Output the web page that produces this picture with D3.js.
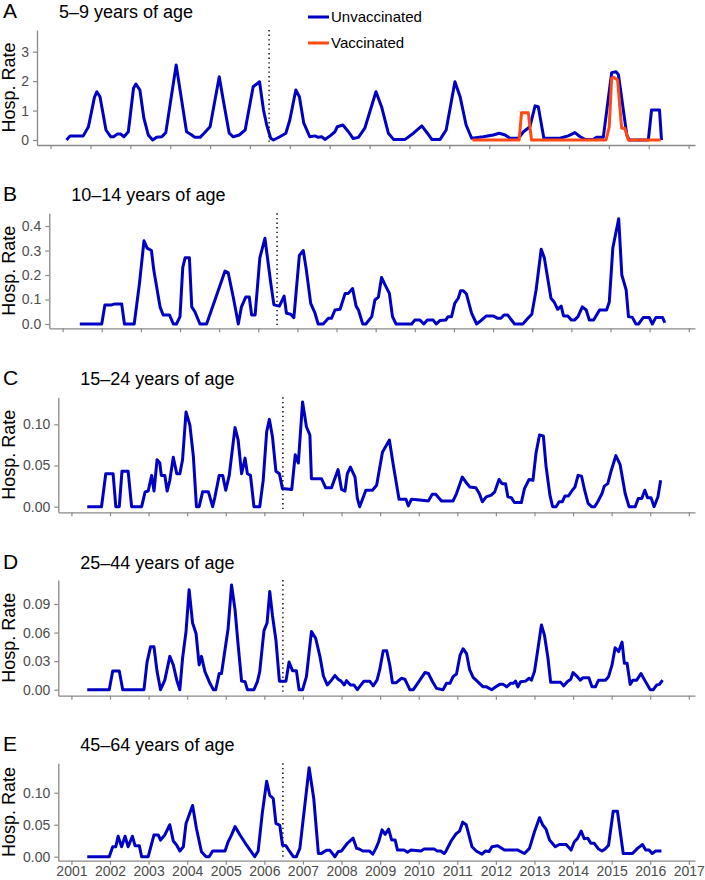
<!DOCTYPE html>
<html>
<head>
<meta charset="utf-8">
<script src="https://cdn.jsdelivr.net/npm/d3@7"></script>
<style>
  html, body { margin: 0; padding: 0; background: #fff; }
  svg { display: block; font-family: "Liberation Sans", Arial, Helvetica, sans-serif; }
</style>
</head>
<body>
<svg id="chart" width="705" height="880"></svg>
<script>
// ---------------- DATA ----------------
const yearTicks = [2001,2002,2003,2004,2005,2006,2007,2008,2009,2010,2011,2012,2013,2014,2015,2016,2017];
const vaccineIntro = 2006.48;
const seriesNames = ["Unvaccinated", "Vaccinated"];

// Panel A: 5–9 years, unvaccinated
const aDates = [2001.40,2001.49,2001.82,2001.95,2002.10,2002.16,2002.24,2002.39,2002.51,2002.58,2002.67,2002.76,2002.84,2002.95,2003.08,2003.14,2003.24,2003.34,2003.45,2003.56,2003.66,2003.79,2003.89,2004.15,2004.26,2004.41,2004.54,2004.62,2004.75,2004.85,2005.00,2005.23,2005.33,2005.48,2005.58,2005.73,2005.88,2006.08,2006.24,2006.34,2006.42,2006.52,2006.59,2006.75,2006.90,2007.00,2007.15,2007.24,2007.35,2007.50,2007.63,2007.71,2007.80,2007.88,2008.01,2008.13,2008.19,2008.33,2008.47,2008.59,2008.72,2008.88,2009.16,2009.30,2009.47,2009.60,2009.89,2010.10,2010.31,2010.45,2010.56,2010.77,2010.92,2011.14,2011.27,2011.42,2011.56,2011.85,2012.10,2012.25,2012.40,2012.52,2012.73,2012.86,2013.02,2013.15,2013.23,2013.37,2013.77,2013.98,2014.15,2014.28,2014.40,2014.61,2014.68,2014.86,2015.07,2015.18,2015.24,2015.45,2015.51,2015.99,2016.07,2016.27,2016.32];
const aUnvax = [0,0.14,0.14,0.45,1.45,1.64,1.47,0.34,0.11,0.11,0.20,0.20,0.11,0.28,1.76,1.90,1.70,0.74,0.17,0.00,0.09,0.11,0.25,2.55,1.59,0.28,0.17,0.09,0.09,0.23,0.45,2.15,1.36,0.23,0.11,0.17,0.34,1.81,1.98,1.02,0.51,0.06,0.00,0.11,0.23,0.68,1.70,1.47,0.57,0.11,0.14,0.09,0.11,0.02,0.14,0.28,0.45,0.51,0.28,0.05,0.09,0.40,1.64,1.13,0.23,0.02,0.02,0.23,0.48,0.23,0.02,0.02,0.34,1.98,1.47,0.51,0.06,0.11,0.17,0.23,0.17,0.06,0.06,0.28,0.45,1.16,1.13,0.06,0.06,0.14,0.25,0.11,0.02,0.02,0.09,0.09,2.29,2.32,2.22,0.17,0.00,0.00,1.02,1.02,0.00];
// Panel A: vaccinated
const aVaxDates = [2011.58,2012.75,2012.81,2012.98,2013.06,2014.93,2015.01,2015.07,2015.12,2015.22,2015.32,2015.40,2015.49,2016.30];
const aVax = [0,0,0.93,0.93,0,0,0.45,2.10,2.13,2.04,0.40,0.40,0,0];

// Panel B: 10–14 years
const bDates = [2001.44,2002.00,2002.08,2002.25,2002.34,2002.51,2002.58,2002.83,2002.96,2003.08,2003.16,2003.27,2003.33,2003.49,2003.57,2003.73,2003.83,2003.91,2004.00,2004.07,2004.13,2004.24,2004.30,2004.38,2004.51,2004.68,2005.15,2005.23,2005.36,2005.49,2005.57,2005.68,2005.77,2005.83,2005.92,2006.04,2006.17,2006.32,2006.40,2006.54,2006.66,2006.72,2006.83,2006.91,2007.05,2007.15,2007.22,2007.34,2007.45,2007.53,2007.66,2007.79,2007.87,2007.96,2008.09,2008.22,2008.30,2008.41,2008.50,2008.56,2008.67,2008.75,2008.90,2008.98,2009.07,2009.15,2009.24,2009.35,2009.43,2009.52,2009.92,2010.00,2010.13,2010.23,2010.32,2010.47,2010.55,2010.64,2010.79,2010.85,2010.94,2011.02,2011.11,2011.17,2011.24,2011.32,2011.45,2011.58,2011.66,2011.83,2012.00,2012.12,2012.20,2012.28,2012.37,2012.55,2012.76,2012.89,2012.99,2013.10,2013.23,2013.31,2013.48,2013.56,2013.65,2013.74,2013.80,2013.91,2014.00,2014.08,2014.17,2014.28,2014.38,2014.46,2014.57,2014.72,2014.90,2014.97,2015.06,2015.21,2015.29,2015.40,2015.46,2015.56,2015.65,2015.72,2015.84,2015.99,2016.07,2016.16,2016.33,2016.39];
const bValues = [0,0,0.078,0.078,0.082,0.082,0,0,0.16,0.34,0.31,0.30,0.22,0.07,0.037,0.037,0,0,0.03,0.23,0.27,0.27,0.07,0.05,0,0,0.216,0.21,0.11,0,0.07,0.11,0.11,0.037,0.037,0.27,0.35,0.166,0.078,0.073,0.114,0.044,0.04,0.026,0.28,0.30,0.23,0.084,0.044,0,0,0.023,0.023,0.057,0.06,0.125,0.125,0.145,0.073,0.057,0,0,0.03,0.098,0.11,0.19,0.16,0.125,0.03,0,0,0.016,0.016,0,0.016,0.016,0,0.014,0.016,0.03,0.03,0.084,0.105,0.136,0.136,0.122,0.044,0,0.01,0.033,0.033,0.023,0.023,0.037,0.037,0,0,0.023,0.04,0.14,0.305,0.27,0.105,0.09,0.06,0.073,0.033,0.033,0.016,0.016,0.03,0.07,0.057,0.016,0.016,0.057,0.057,0.09,0.31,0.43,0.2,0.14,0.03,0.027,0,0,0.027,0.027,0,0.027,0.027,0.005];

// Panel C: 15–24 years
const cDates = [2001.41,2001.78,2001.89,2002.08,2002.15,2002.24,2002.31,2002.47,2002.56,2002.82,2002.91,2002.99,2003.08,2003.14,2003.22,2003.29,2003.33,2003.42,2003.48,2003.55,2003.64,2003.73,2003.81,2003.88,2003.97,2004.07,2004.16,2004.24,2004.31,2004.40,2004.55,2004.66,2004.72,2004.83,2004.92,2005.00,2005.09,2005.18,2005.24,2005.32,2005.41,2005.50,2005.56,2005.64,2005.73,2005.88,2005.97,2006.06,2006.13,2006.21,2006.30,2006.39,2006.47,2006.71,2006.80,2006.88,2006.99,2007.09,2007.18,2007.22,2007.48,2007.59,2007.74,2007.91,2008.00,2008.09,2008.15,2008.23,2008.35,2008.41,2008.47,2008.63,2008.80,2008.91,2009.06,2009.24,2009.34,2009.49,2009.67,2009.73,2009.81,2010.03,2010.25,2010.35,2010.44,2010.59,2010.89,2010.98,2011.13,2011.22,2011.32,2011.48,2011.57,2011.65,2011.75,2011.88,2011.97,2012.08,2012.16,2012.25,2012.31,2012.40,2012.48,2012.66,2012.74,2012.86,2012.96,2013.04,2013.13,2013.23,2013.30,2013.40,2013.47,2013.56,2013.64,2013.72,2013.79,2013.88,2013.98,2014.05,2014.13,2014.22,2014.30,2014.39,2014.48,2014.56,2014.64,2014.75,2014.81,2014.90,2014.99,2015.11,2015.22,2015.35,2015.45,2015.61,2015.69,2015.78,2015.86,2015.93,2016.02,2016.10,2016.20,2016.27];
const cValues = [0,0,0.04,0.04,0,0,0.043,0.043,0,0,0.018,0.019,0.038,0.019,0.057,0.053,0.038,0.038,0.019,0.032,0.06,0.04,0.04,0.057,0.115,0.099,0.061,0,0,0.018,0.018,0,0.012,0.038,0.038,0.02,0.038,0.073,0.096,0.081,0.04,0.059,0.04,0.038,0,0,0.032,0.091,0.106,0.085,0.043,0.04,0.022,0.021,0.063,0.053,0.127,0.097,0.087,0.034,0.034,0.023,0.023,0.045,0.021,0.019,0.04,0.048,0.036,0.01,0,0.02,0.02,0.026,0.066,0.081,0.051,0.009,0.009,0.001,0.009,0.008,0.007,0.015,0.015,0.007,0.007,0.016,0.036,0.030,0.024,0.023,0.016,0.006,0.012,0.014,0.018,0.033,0.028,0.028,0.012,0.011,0.005,0.005,0.022,0.033,0.032,0.065,0.087,0.086,0.049,0.014,0,0,0.006,0.006,0.013,0.013,0.02,0.024,0.038,0.037,0.02,0.004,0,0,0.006,0.016,0.025,0.028,0.044,0.062,0.051,0.016,0,0,0.01,0.01,0.02,0.011,0.011,0,0.012,0.032];

// Panel D: 25–44 years
const dDates = [2001.41,2001.98,2002.07,2002.24,2002.33,2002.88,2002.96,2003.05,2003.14,2003.22,2003.31,2003.42,2003.55,2003.64,2003.73,2003.81,2003.88,2003.97,2004.05,2004.14,2004.23,2004.31,2004.37,2004.46,2004.59,2004.68,2004.74,2004.83,2004.89,2004.98,2005.06,2005.15,2005.24,2005.32,2005.41,2005.50,2005.56,2005.73,2005.82,2005.88,2005.99,2006.07,2006.14,2006.21,2006.30,2006.39,2006.56,2006.64,2006.73,2006.83,2006.90,2006.99,2007.09,2007.22,2007.33,2007.44,2007.53,2007.63,2007.74,2007.83,2007.91,2007.99,2008.07,2008.13,2008.23,2008.32,2008.41,2008.58,2008.73,2008.82,2008.92,2008.99,2009.08,2009.17,2009.25,2009.32,2009.42,2009.55,2009.64,2009.77,2009.86,2010.03,2010.16,2010.25,2010.36,2010.46,2010.63,2010.72,2010.81,2010.89,2010.98,2011.07,2011.15,2011.24,2011.32,2011.41,2011.50,2011.67,2011.76,2011.89,2012.00,2012.10,2012.19,2012.28,2012.38,2012.45,2012.51,2012.57,2012.64,2012.77,2012.86,2012.92,2013.00,2013.09,2013.18,2013.26,2013.35,2013.42,2013.68,2013.76,2013.85,2013.94,2014.00,2014.11,2014.19,2014.26,2014.41,2014.49,2014.58,2014.66,2014.84,2014.92,2015.01,2015.09,2015.18,2015.27,2015.33,2015.40,2015.48,2015.55,2015.65,2015.76,2015.87,2016.00,2016.08,2016.17,2016.24,2016.32];
const dValues = [0,0,0.0196,0.0196,0,0,0.029,0.045,0.045,0.019,0,0.01,0.035,0.026,0.01,0,0.033,0.061,0.105,0.07,0.059,0.026,0.035,0.019,0.0067,0,0,0.017,0.017,0.042,0.064,0.11,0.084,0.047,0.009,0.0084,0,0,0.0084,0.019,0.062,0.07,0.103,0.078,0.052,0.009,0.009,0.029,0.02,0.02,0,0,0.0137,0.061,0.054,0.035,0.0144,0.005,0.01,0.015,0.011,0.009,0.005,0.0095,0.005,0.005,0,0.009,0.009,0.004,0.01,0.021,0.041,0.041,0.026,0.0074,0.0074,0.012,0.011,0,0,0.01,0.018,0.017,0.0084,0.0014,0,0.0067,0.0067,0.0137,0.0165,0.036,0.043,0.038,0.021,0.013,0.0095,0.003,0.003,0,0.003,0.0056,0.0056,0.003,0.0067,0.0067,0.009,0.003,0.0084,0.009,0.012,0.01,0.019,0.043,0.068,0.057,0.033,0.0077,0.0077,0.004,0.0084,0.011,0.018,0.0137,0.01,0.0126,0.0126,0.003,0.003,0.01,0.01,0.0137,0.026,0.044,0.04,0.05,0.0277,0.0277,0.0056,0.01,0.01,0.017,0.009,0,0,0.005,0.0056,0.01];

// Panel E: 45–64 years
const eDates = [2001.41,2001.98,2002.07,2002.15,2002.21,2002.30,2002.39,2002.47,2002.58,2002.65,2002.76,2002.82,2002.99,2003.14,2003.25,2003.31,2003.42,2003.55,2003.64,2003.73,2003.81,2003.90,2003.97,2004.14,2004.24,2004.37,2004.49,2004.57,2004.66,2004.98,2005.06,2005.15,2005.24,2005.37,2005.54,2005.75,2005.84,2005.95,2006.06,2006.14,2006.23,2006.30,2006.40,2006.47,2006.56,2006.66,2006.75,2006.83,2006.92,2007.16,2007.28,2007.40,2007.48,2007.61,2007.70,2007.83,2007.91,2008.00,2008.15,2008.30,2008.39,2008.46,2008.55,2008.72,2008.81,2008.89,2008.96,2009.05,2009.13,2009.22,2009.30,2009.39,2009.45,2009.62,2009.71,2009.80,2010.06,2010.14,2010.40,2010.48,2010.57,2010.66,2010.70,2010.84,2010.97,2011.06,2011.14,2011.23,2011.38,2011.49,2011.64,2011.73,2011.82,2011.90,2012.05,2012.22,2012.57,2012.74,2012.87,2013.00,2013.13,2013.21,2013.30,2013.39,2013.54,2013.64,2013.82,2013.95,2014.03,2014.12,2014.21,2014.29,2014.38,2014.46,2014.55,2014.66,2014.75,2014.83,2014.92,2015.04,2015.15,2015.30,2015.54,2015.67,2015.80,2015.88,2015.97,2016.05,2016.14,2016.29];
const eValues = [0,0,0.0156,0.0156,0.032,0.0156,0.032,0.0156,0.032,0.017,0.017,0,0,0.034,0.034,0.026,0.034,0.05,0.0245,0.018,0.009,0.0156,0.052,0.08,0.044,0.0078,0,0,0.009,0.009,0.023,0.034,0.047,0.034,0.018,0,0.009,0.07,0.118,0.096,0.091,0.052,0.049,0.018,0.017,0.0078,0,0,0.013,0.139,0.091,0.0052,0.0052,0.01,0.01,0,0.0078,0.009,0.021,0.029,0.013,0.012,0.009,0.009,0.004,0.013,0.023,0.042,0.035,0.043,0.026,0.026,0.0104,0.0104,0.007,0.0104,0.009,0.012,0.012,0.009,0.009,0.005,0.008,0.0245,0.036,0.04,0.054,0.05,0.0156,0.009,0.004,0.009,0.008,0.0156,0.017,0.0104,0.0104,0.005,0.013,0.039,0.061,0.05,0.043,0.026,0.0156,0.019,0.019,0.0104,0.023,0.029,0.04,0.028,0.029,0.021,0.021,0.012,0.009,0.012,0.018,0.071,0.071,0.005,0.005,0.013,0.019,0.0104,0.0104,0.005,0.009,0.009];

// Axis tick values per panel
const aTicks = [0,1,2,3];
const bTicks = [0,0.1,0.2,0.3,0.4];
const cTicks = [0,0.05,0.10];
const dTicks = [0,0.03,0.06,0.09];
const eTicks = [0,0.05,0.10];

// ---------------- LAYOUT ----------------
const COL_UNVAX = "#0000C4";
const COL_VAX = "#FF4A12";
const X_DOMAIN = [2000.66, 2017.16];
const RIGHT = 695;

const panels = [
  {letter:"A", title:"5\u20139 years of age",   left:37,   top:30,    bottom:145,   yDom:[-0.170, 3.738], ticks:aTicks, fmt:d3.format("d"),
   series:[{dates:aDates, vals:aUnvax, color:COL_UNVAX},{dates:aVaxDates, vals:aVax, color:COL_VAX}], titleY:18},
  {letter:"B", title:"10\u201314 years of age", left:49.3, top:213.3, bottom:328.3, yDom:[-0.0176, 0.452], ticks:bTicks, fmt:d3.format(".1f"),
   series:[{dates:bDates, vals:bValues, color:COL_UNVAX}], titleY:200.5},
  {letter:"C", title:"15\u201324 years of age", left:58.3, top:397.3, bottom:512.3, yDom:[-0.0068, 0.1328], ticks:cTicks, fmt:d3.format(".2f"),
   series:[{dates:cDates, vals:cValues, color:COL_UNVAX}], titleY:384.5},
  {letter:"D", title:"25\u201344 years of age", left:58.3, top:580,   bottom:695.7, yDom:[-0.0063, 0.1152], ticks:dTicks, fmt:d3.format(".2f"),
   series:[{dates:dDates, vals:dValues, color:COL_UNVAX}], titleY:568.5},
  {letter:"E", title:"45\u201364 years of age", left:58.3, top:763.3, bottom:860.7, yDom:[-0.00625, 0.146], ticks:eTicks, fmt:d3.format(".2f"),
   series:[{dates:eDates, vals:eValues, color:COL_UNVAX}], titleY:751, xLabels:true}
];

const svg = d3.select("#chart");
const AXIS_COL = "#8a8a8a";
const TICK_TXT = "#4d4d4d";

panels.forEach(p => {
  const g = svg.append("g");
  const x = d3.scaleLinear().domain(X_DOMAIN).range([p.left, RIGHT]);
  const y = d3.scaleLinear().domain(p.yDom).range([p.bottom, p.top]);

  // Panel letter and title
  g.append("text").attr("x", 3).attr("y", p.titleY).attr("font-size", 21).attr("fill", "#000").text(p.letter);
  g.append("text").attr("x", p.left + 22).attr("y", p.titleY).attr("font-size", 18).attr("fill", "#000").text(p.title);

  // Y-axis title
  g.append("text")
    .attr("transform", `translate(15,${(p.top + p.bottom) / 2}) rotate(-90)`)
    .attr("text-anchor", "middle").attr("font-size", 18).attr("fill", "#000")
    .text("Hosp. Rate");

  // Axes
  const yAxis = g.append("g").attr("transform", `translate(${p.left},0)`)
    .call(d3.axisLeft(y).tickValues(p.ticks).tickFormat(p.fmt).tickSize(4).tickPadding(4).tickSizeOuter(0));
  const xAxis = g.append("g").attr("transform", `translate(0,${p.bottom})`)
    .call(d3.axisBottom(x).tickValues(yearTicks).tickFormat(p.xLabels ? d3.format("d") : () => "").tickSize(4).tickPadding(4).tickSizeOuter(0));
  [yAxis, xAxis].forEach(ax => {
    ax.select(".domain").attr("stroke", AXIS_COL).attr("stroke-width", 1.3);
    ax.selectAll(".tick line").attr("stroke", AXIS_COL).attr("stroke-width", 1.2);
    ax.selectAll(".tick text").attr("fill", TICK_TXT).attr("font-size", 14)
      .attr("font-family", '"Liberation Sans", Arial, sans-serif');
  });
  if (p.xLabels) xAxis.selectAll(".tick text").attr("dy", "0.55em");

  // Vaccine introduction line
  g.append("line")
    .attr("x1", x(vaccineIntro)).attr("x2", x(vaccineIntro))
    .attr("y1", p.top).attr("y2", p.bottom - 1)
    .attr("stroke", "#000").attr("stroke-width", 1.4).attr("stroke-dasharray", "1.4,3.2");

  // Series lines
  const line = d3.line().x(d => x(d[0])).y(d => y(d[1]));
  p.series.forEach(s => {
    const pts = s.dates.map((t, i) => [t, s.vals[i]]);
    g.append("path").datum(pts).attr("d", line)
      .attr("fill", "none").attr("stroke", s.color).attr("stroke-width", 3)
      .attr("stroke-linejoin", "round").attr("stroke-linecap", "butt");
  });
});

// Legend (in panel A)
const legend = svg.append("g");
const legendColors = [COL_UNVAX, COL_VAX];
seriesNames.forEach((name, i) => {
  const yy = 17 + i * 26;
  legend.append("line").attr("x1", 308).attr("x2", 329).attr("y1", yy).attr("y2", yy)
    .attr("stroke", legendColors[i]).attr("stroke-width", 3);
  legend.append("text").attr("x", 331).attr("y", yy).attr("dy", "0.35em")
    .attr("font-size", 15).attr("fill", "#000").text(name);
});
</script>
</body>
</html>
